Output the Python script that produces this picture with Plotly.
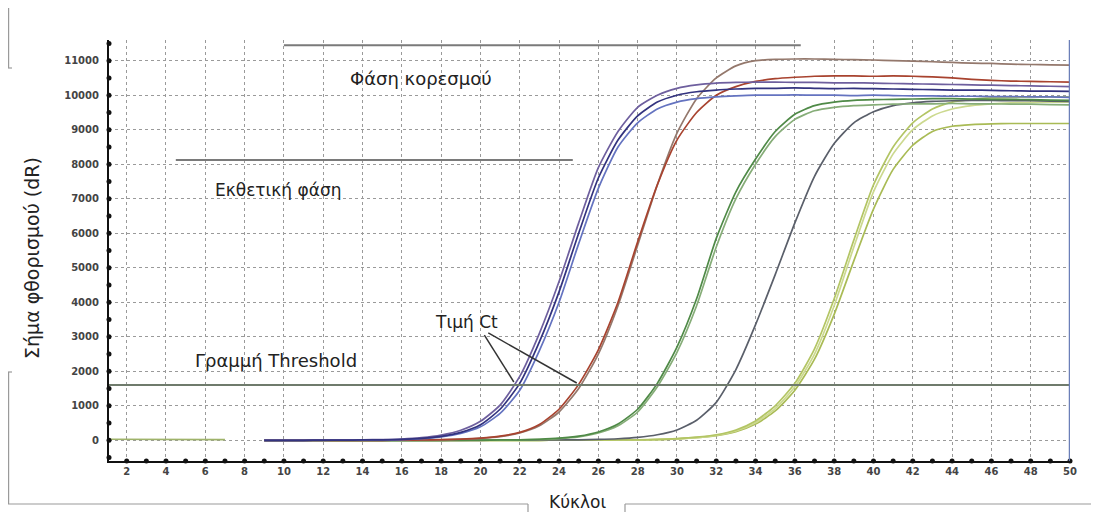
import plotly.graph_objects as go

# ---- data ----
cycles = list(range(9, 51))
early_cycles = [1, 2, 3, 4, 5, 6, 7]
early_green = [30, 30, 30, 30, 25, 20, 20]

blue_navy = [0, 0, 0, 5, 5, 10, 15, 25, 55, 115, 230, 450, 900, 1650, 2850, 4300, 6000, 7600, 8700, 9400,
             9800, 10000, 10100, 10150, 10180,
             10200, 10200, 10210, 10200, 10190, 10200, 10190, 10180, 10170, 10160, 10150, 10150, 10140, 10130,
             10120, 10120, 10110]
blue_purple = [0, 0, 0, 5, 10, 15, 20, 35, 75, 150, 290, 550, 1020, 1850, 3100, 4600, 6300, 7900, 8950, 9650,
               10000, 10200, 10300, 10350, 10370,
               10380, 10380, 10370, 10370, 10360, 10360, 10350, 10340, 10330, 10320, 10310, 10300, 10290, 10280,
               10270, 10260, 10250]
blue_light = [0, 0, 0, 0, 5, 5, 10, 20, 45, 100, 200, 390, 780, 1450, 2600, 4000, 5700, 7300, 8500, 9200,
              9600, 9800, 9900, 9950, 9980,
              10000, 10000, 10010, 10000, 10000, 9990, 10000, 9990, 9980, 9980, 9970, 9970, 9960, 9960,
              9950, 9950, 9940]
red = [0, 0, 0, 0, 0, 0, 0, 5, 10, 20, 35,
       65, 120, 230, 460, 900, 1620, 2620, 4000, 5750, 7400, 8700, 9500, 10000, 10250, 10400, 10480, 10520,
       10550, 10560, 10560, 10550, 10560, 10550, 10530, 10500, 10460, 10430, 10410, 10400, 10390, 10380]
brown = [0, 0, 0, 0, 0, 0, 0, 5, 10, 15, 30,
         55, 105, 210, 420, 820, 1500, 2500, 3900, 5650, 7400, 8900, 9900, 10500, 10850, 11000, 11040, 11050,
         11050, 11040, 11030, 11020, 11000, 10990, 10970, 10950, 10930, 10920, 10900, 10890, 10880, 10870]
green = [0, 0, 0, 0, 0, 0, 0, 0, 0, 0, 5, 5, 10,
         15, 30, 60, 120, 240, 470, 900, 1650, 2700, 4100, 5850, 7200, 8150, 8950, 9450, 9700, 9800, 9850, 9870,
         9880, 9890, 9900, 9900, 9890, 9880, 9880, 9870, 9860, 9850]
green_light = [0, 0, 0, 0, 0, 0, 0, 0, 0, 0, 0, 5, 5,
               10, 25, 50, 100, 210, 420, 820, 1550, 2550, 3900, 5600, 7000, 8000, 8800, 9300, 9550, 9650, 9700,
               9720, 9740, 9750, 9750, 9760, 9750, 9750, 9740, 9740, 9730, 9720]
gray = [0, 0, 0, 0, 0, 0, 0, 0, 0, 0, 0, 0, 5, 5, 10, 10, 15,
        25, 45, 85, 160, 300, 580, 1100, 2050, 3350, 4800, 6300, 7650, 8600, 9200, 9520, 9700, 9780, 9820, 9840,
        9850, 9850, 9840, 9840, 9830, 9820]
yg1 = [0, 0, 0, 0, 0, 0, 0, 0, 0, 0, 0, 0, 0, 0, 0, 5, 5, 5, 10,
       15, 25, 50, 90, 160, 300, 560, 1000, 1650, 2650, 4100, 5800, 7400, 8500, 9200, 9600, 9800, 9880, 9920,
       9940, 9950, 9950, 9950]
yg2 = [0, 0, 0, 0, 0, 0, 0, 0, 0, 0, 0, 0, 0, 0, 0, 5, 5, 5, 8,
       12, 22, 45, 80, 145, 270, 510, 920, 1550, 2500, 3900, 5600, 7200, 8300, 9000, 9400, 9600, 9700, 9750,
       9780, 9790, 9800, 9800]
yg3 = [0, 0, 0, 0, 0, 0, 0, 0, 0, 0, 0, 0, 0, 0, 0, 5, 5, 5, 8,
       10, 20, 40, 75, 135, 250, 470, 850, 1450, 2350, 3650, 5200, 6700, 7850, 8550, 8950, 9100, 9150, 9170,
       9180, 9180, 9180, 9180]

series = [
    ("yg3", yg3, "#a9bb55"),
    ("yg2", yg2, "#ccd98f"),
    ("yg1", yg1, "#b3c564"),
    ("gray", gray, "#5a5f6a"),
    ("green_light", green_light, "#86ad78"),
    ("green", green, "#4f8a47"),
    ("brown", brown, "#94786c"),
    ("red", red, "#a8432f"),
    ("blue_light", blue_light, "#6473c0"),
    ("blue_purple", blue_purple, "#6e5f9e"),
    ("blue_navy", blue_navy, "#33337f"),
]

x_ticks = list(range(2, 51, 2))
y_ticks = list(range(0, 11001, 1000))
x_dot_ticks = list(range(2, 51))
y_dot_ticks = list(range(-500, 11501, 500))

threshold = 1600
X_RANGE = [1.1, 50]
Y_RANGE = [-600, 11600]

fig = go.Figure()

for name, vals, col in series:
    fig.add_trace(go.Scatter(x=cycles, y=vals, mode="lines", name=name,
                             line=dict(color=col, width=1.7, shape="spline", smoothing=0.6),
                             hoverinfo="skip"))

fig.add_trace(go.Scatter(x=early_cycles, y=early_green, mode="lines",
                         line=dict(color="#9fb36a", width=1.7), hoverinfo="skip"))

# axis dots
fig.add_trace(go.Scatter(x=x_dot_ticks, y=[Y_RANGE[0]] * len(x_dot_ticks), mode="markers",
                         marker=dict(color="#111", size=5), cliponaxis=False, hoverinfo="skip"))
fig.add_trace(go.Scatter(x=[X_RANGE[0]] * len(y_dot_ticks), y=y_dot_ticks, mode="markers",
                         marker=dict(color="#111", size=5), cliponaxis=False, hoverinfo="skip"))

# threshold line
fig.add_shape(type="line", x0=X_RANGE[0], x1=50, y0=threshold, y1=threshold,
              line=dict(color="#6f7b6c", width=2))
# phase lines
fig.add_shape(type="line", x0=10.0, x1=36.3, y0=11450, y1=11450, line=dict(color="#7a7a7a", width=2))
fig.add_shape(type="line", x0=4.5, x1=24.7, y0=8125, y1=8125, line=dict(color="#7a7a7a", width=2))
# Ct pointers
fig.add_shape(type="line", x0=20.2, y0=3050, x1=21.7, y1=1690, line=dict(color="#333", width=1.5))
fig.add_shape(type="line", x0=20.4, y0=3110, x1=24.9, y1=1660, line=dict(color="#333", width=1.5))
# right blue border
fig.add_shape(type="line", x0=50, x1=50, y0=Y_RANGE[0], y1=Y_RANGE[1], line=dict(color="#6b7fb8", width=2.5))

fam = "DejaVu Sans"
fig.add_annotation(x=17.0, y=10490, text="Φάση κορεσμού", showarrow=False,
                   font=dict(family=fam, size=18, color="#222"))
fig.add_annotation(x=9.7, y=7250, text="Εκθετική φάση", showarrow=False,
                   font=dict(family=fam, size=17, color="#222"))
fig.add_annotation(x=9.6, y=2320, text="Γραμμή Threshold", showarrow=False,
                   font=dict(family=fam, size=18, color="#222"))
fig.add_annotation(x=19.3, y=3420, text="Τιμή Ct", showarrow=False,
                   font=dict(family=fam, size=17, color="#222"))

# layout geometry (page has an 8px body margin)
OFF = 8
L, R, T, B = 101, 29, 32, 54
W, H = 1091, 507
PW, PH = W - L - R, H - T - B


def px(xp):
    return (xp - OFF - L) / PW


def py(yp):
    return (H - B - (yp - OFF)) / PH


fig.add_annotation(xref="paper", yref="paper", x=px(32), y=py(258), xanchor="center", yanchor="middle",
                   text="Σήμα φθορισμού (dR)", textangle=-90, showarrow=False,
                   font=dict(family=fam, size=19, color="#222"))
fig.add_annotation(xref="paper", yref="paper", x=px(577), y=py(502), xanchor="center", yanchor="middle",
                   text="Κύκλοι", showarrow=False, font=dict(family=fam, size=17, color="#222"))

# frame bracket lines (page decoration)
frame = dict(color="#9a9a9a", width=1.2)
for (a, b, c, d) in [(8.6, 5, 8.6, 68), (8, 68, 12, 68), (8.6, 372, 8.6, 504), (8, 372, 12, 372),
                     (8, 504, 528, 504), (528, 504, 528, 512), (625, 504, 625, 512), (625, 504, 1099, 504)]:
    fig.add_shape(type="line", xref="paper", yref="paper", x0=px(a), y0=py(b), x1=px(c), y1=py(d), line=frame)

tick_font = dict(family="DejaVu Sans", size=10, color="#444", weight="bold")
fig.update_layout(
    width=W, height=H, margin=dict(l=L, r=R, t=T, b=B),
    plot_bgcolor="white", paper_bgcolor="white", showlegend=False,
    xaxis=dict(range=X_RANGE, tickvals=x_ticks, ticktext=[str(v) for v in x_ticks],
               showgrid=True, gridcolor="#9a9a9a", griddash="dot", gridwidth=1,
               showline=True, linecolor="#111", linewidth=2, zeroline=False, ticks="",
               tickfont=tick_font, ticklabelstandoff=0),
    yaxis=dict(range=Y_RANGE, tickvals=y_ticks, ticktext=[str(v) for v in y_ticks],
               showgrid=True, gridcolor="#9a9a9a", griddash="dot", gridwidth=1,
               showline=True, linecolor="#111", linewidth=2, zeroline=False, ticks="",
               tickfont=tick_font, ticklabelstandoff=6),
)

fig.write_html("out.html")
